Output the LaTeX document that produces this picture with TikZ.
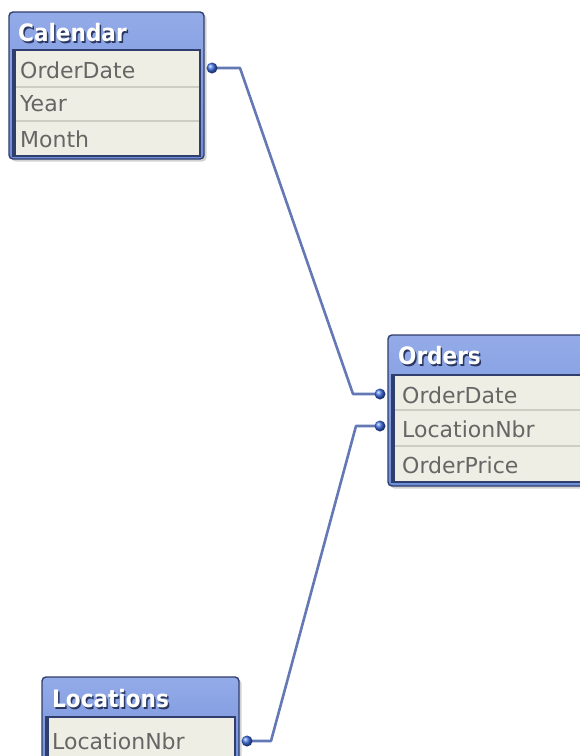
\documentclass[tikz,border=0pt]{standalone}
\usepackage{fontspec}
\setmainfont{DejaVu Sans}
\newfontfamily\hdrfont{DejaVu Sans Condensed}
\usetikzlibrary{shadows}
\definecolor{hdrtop}{HTML}{94ABE8}
\definecolor{hdrbot}{HTML}{6F8ED9}
\definecolor{navy}{HTML}{2F3E6C}
\definecolor{rowfill}{HTML}{EEEEE4}
\definecolor{rowline}{HTML}{CDCDC4}
\definecolor{rowtxt}{HTML}{666666}
\definecolor{conncol}{HTML}{6378B4}
\definecolor{dotcol}{HTML}{3D6CE0}
\tikzset{
 tablebox/.style={rounded corners=4pt, top color=hdrtop, bottom color=hdrbot, draw=navy, line width=1.4pt, drop shadow={shadow xshift=2.5pt, shadow yshift=-2.5pt, fill=black!35}},
 rowarea/.style={fill=rowfill, draw=navy, line width=1.4pt},
 rowsep/.style={draw=rowline, line width=1.4pt},
 innerleft/.style={draw=navy, line width=3pt},
 hdrtext/.style={anchor=west, inner sep=0pt, text=white, font=\hdrfont\bfseries\fontsize{24}{24}\selectfont},
 hdrshadow/.style={hdrtext, text=navy!90!black},
 rowtext/.style={anchor=west, inner sep=0pt, text=rowtxt, font=\fontsize{22}{22}\selectfont},
 conn/.style={draw=conncol, line width=2.6pt, line join=round},
 keydot/.style={circle, inner sep=0pt, minimum size=11pt, shading=ball, ball color=dotcol},
}
\begin{document}
\begin{tikzpicture}[x=1pt,y=-1pt]
\useasboundingbox[fill=white] (0,0) rectangle (580,756);

% ---------- Calendar ----------
\draw[tablebox] (9,12) rectangle (204,159);
\draw[rowarea] (13,50) rectangle (200,156);
\draw[rowsep] (15,87) -- (199,87);
\draw[rowsep] (15,121) -- (199,121);
\draw[innerleft] (14.5,50) -- (14.5,156);
\node[hdrshadow] at (19.5,34.5) {Calendar};
\node[hdrtext] (cal) at (18,33) {Calendar};
\node[rowtext] (calOD) at (20,70) {OrderDate};
\node[rowtext] (calY) at (20,104) {Year};
\node[rowtext] (calM) at (20,139) {Month};

% ---------- Orders ----------
\draw[tablebox] (388,335) rectangle (592,486);
\draw[rowarea] (392,375) rectangle (592,482);
\draw[rowsep] (394,410) -- (592,410);
\draw[rowsep] (394,446) -- (592,446);
\draw[innerleft] (393.5,375) -- (393.5,482);
\node[hdrshadow] at (399.5,357.5) {Orders};
\node[hdrtext] (ord) at (398,356) {Orders};
\node[rowtext] (ordOD) at (402,395) {OrderDate};
\node[rowtext] (ordLN) at (402,429) {LocationNbr};
\node[rowtext] (ordOP) at (402,465) {OrderPrice};

% ---------- Locations ----------
\draw[tablebox] (42,677) rectangle (239,775);
\draw[rowarea] (46,717) rectangle (235,772);
\draw[innerleft] (47.5,717) -- (47.5,772);
\node[hdrshadow] at (53.5,700.5) {Locations};
\node[hdrtext] (loc) at (52,699) {Locations};
\node[rowtext] (locLN) at (52,741) {LocationNbr};

% ---------- key dot positions ----------
\coordinate (p1) at (212,68);
\coordinate (p2) at (380,394);
\coordinate (p3) at (380,426);
\coordinate (p4) at (247,741);

% ---------- connectors ----------
\coordinate (b1) at (240,68);
\coordinate (b2) at (353,394);
\coordinate (b3) at (356,426);
\coordinate (b4) at (271,741);
\draw[conn] (p1) -- (b1) -- (b2) -- (p2);
\draw[conn] (p3) -- (b3) -- (b4) -- (p4);

% ---------- key dots ----------
\node[keydot] (d1) at (p1) {};
\node[keydot] (d2) at (p2) {};
\node[keydot] (d3) at (p3) {};
\node[keydot] (d4) at (p4) {};
\end{tikzpicture}
\end{document}
